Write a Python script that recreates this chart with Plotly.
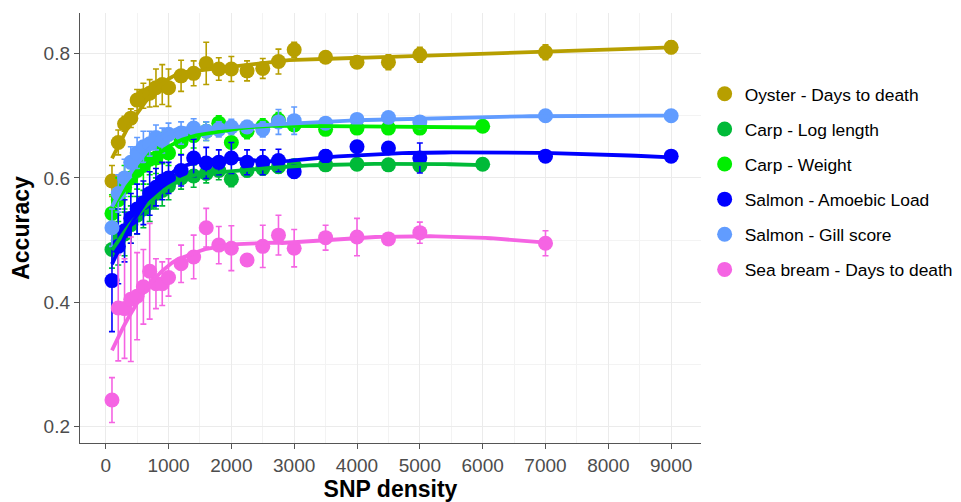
import numpy as np
import plotly.graph_objects as go

# ---------------- data ----------------
X_BASE = [100, 200, 300, 400, 500, 600, 700, 800, 900, 1000, 1200, 1400, 1600, 1800,
          2000, 2250, 2500, 2750, 3000, 3500, 4000, 4500, 5000]

oyster_x = X_BASE + [7000, 9000]
oyster_y = [0.595, 0.657, 0.687, 0.696, 0.725, 0.732, 0.736, 0.745, 0.750, 0.745, 0.764, 0.768,
            0.784, 0.775, 0.775, 0.772, 0.776, 0.787, 0.806, 0.794, 0.786, 0.786, 0.798, 0.802, 0.810]
oyster_e = [0.025, 0.020, 0.012, 0.015, 0.017, 0.020, 0.022, 0.030, 0.032, 0.030, 0.025, 0.020,
            0.034, 0.018, 0.020, 0.016, 0.016, 0.020, 0.012, 0.005, 0.006, 0.012, 0.012, 0.012, 0.010]

carplen_x = X_BASE + [6000]
carplen_y = [0.485, 0.500, 0.510, 0.525, 0.540, 0.550, 0.560, 0.575, 0.580, 0.587, 0.600, 0.603,
             0.607, 0.612, 0.598, 0.612, 0.615, 0.618, 0.620, 0.621, 0.622, 0.621, 0.620, 0.622]
carplen_e = [0.030, 0.040, 0.035, 0.030, 0.030, 0.030, 0.030, 0.025, 0.025, 0.022, 0.018, 0.018,
             0.015, 0.015, 0.012, 0.010, 0.010, 0.010, 0.008, 0.006, 0.006, 0.006, 0.006, 0.005]

carpwt_x = X_BASE + [6000]
carpwt_y = [0.543, 0.565, 0.585, 0.600, 0.612, 0.620, 0.630, 0.632, 0.648, 0.640, 0.658, 0.668,
            0.675, 0.688, 0.657, 0.675, 0.683, 0.693, 0.685, 0.678, 0.680, 0.680, 0.680, 0.683]
carpwt_e = [0.030, 0.035, 0.035, 0.030, 0.030, 0.030, 0.025, 0.025, 0.025, 0.020, 0.020, 0.020,
            0.015, 0.012, 0.015, 0.012, 0.012, 0.012, 0.010, 0.008, 0.008, 0.008, 0.008, 0.005]

amoeb_x = X_BASE + [7000, 9000]
amoeb_y = [0.435, 0.490, 0.515, 0.535, 0.550, 0.560, 0.575, 0.585, 0.595, 0.600, 0.612, 0.632,
           0.624, 0.625, 0.632, 0.625, 0.625, 0.628, 0.610, 0.635, 0.650, 0.648, 0.632, 0.635, 0.635]
amoeb_e = [0.082, 0.060, 0.050, 0.040, 0.040, 0.035, 0.035, 0.030, 0.030, 0.025, 0.025, 0.030,
           0.025, 0.020, 0.025, 0.020, 0.020, 0.018, 0.010, 0.010, 0.008, 0.008, 0.024, 0.005, 0.005]

gill_x = X_BASE + [7000, 9000]
gill_y = [0.520, 0.575, 0.600, 0.625, 0.640, 0.650, 0.655, 0.665, 0.660, 0.670, 0.672, 0.680,
          0.675, 0.678, 0.682, 0.682, 0.678, 0.690, 0.692, 0.688, 0.694, 0.697, 0.690, 0.700, 0.700]
gill_e = [0.030, 0.030, 0.030, 0.025, 0.025, 0.025, 0.020, 0.020, 0.020, 0.018, 0.018, 0.015,
          0.015, 0.012, 0.012, 0.010, 0.012, 0.020, 0.022, 0.005, 0.005, 0.005, 0.005, 0.004, 0.004]

bream_x = X_BASE + [7000]
bream_y = [0.243, 0.391, 0.390, 0.405, 0.410, 0.425, 0.450, 0.430, 0.430, 0.440, 0.462, 0.473,
           0.520, 0.492, 0.487, 0.468, 0.490, 0.508, 0.487, 0.504, 0.505, 0.502, 0.512, 0.495]
bream_e = [0.036, 0.085, 0.080, 0.100, 0.070, 0.060, 0.077, 0.040, 0.035, 0.030, 0.030, 0.035,
           0.031, 0.030, 0.036, 0.010, 0.034, 0.032, 0.030, 0.020, 0.030, 0.006, 0.017, 0.020]

names = ["Oyster - Days to death", "Carp - Log length", "Carp - Weight",
         "Salmon - Amoebic Load", "Salmon - Gill score", "Sea bream - Days to death"]
colors = ["#B79F00", "#00BA38", "#00EE00", "#0000FF", "#619CFF", "#F564E3"]

series = [(oyster_x, oyster_y, oyster_e), (carplen_x, carplen_y, carplen_e),
          (carpwt_x, carpwt_y, carpwt_e), (amoeb_x, amoeb_y, amoeb_e),
          (gill_x, gill_y, gill_e), (bream_x, bream_y, bream_e)]

x_ticks = [0, 1000, 2000, 3000, 4000, 5000, 6000, 7000, 8000, 9000]
y_ticks = [0.2, 0.4, 0.6, 0.8]


def loess(x, y, xout, span=0.75):
    x = np.asarray(x, float)
    y = np.asarray(y, float)
    n = len(x)
    q = int(np.floor(n * span))
    out = []
    for x0 in xout:
        d = np.abs(x - x0)
        h = np.sort(d)[q - 1]
        u = np.clip(d / h, 0, 1)
        w = (1 - u ** 3) ** 3
        X = np.column_stack([np.ones(n), x - x0, (x - x0) ** 2])
        W = np.sqrt(w)
        beta, *_ = np.linalg.lstsq(X * W[:, None], y * W, rcond=None)
        out.append(beta[0])
    return np.array(out)


fig = go.Figure()

for i, ((sx, sy, se), nm, col) in enumerate(zip(series, names, colors)):
    fig.add_trace(go.Scatter(
        x=sx, y=sy, mode="markers", name=nm, legendgroup=nm,
        marker=dict(color=col, size=15),
        error_y=dict(type="data", array=se, visible=True, color=col, thickness=1.6, width=3),
    ))

for (sx, sy, se), nm, col in zip(series, names, colors):
    xs = np.linspace(min(sx), max(sx), 80)
    ys = loess(sx, sy, xs)
    fig.add_trace(go.Scatter(x=xs, y=ys, mode="lines", line=dict(color=col, width=3.8),
                             showlegend=False, legendgroup=nm, hoverinfo="skip"))

axis_common = dict(
    showline=True, linecolor="#555555", linewidth=1.4,
    ticks="outside", ticklen=5, tickwidth=1.2, tickcolor="#555555",
    tickfont=dict(family="Liberation Sans, Arial", size=19, color="#4D4D4D"),
    showgrid=True, gridcolor="#EBEBEB", gridwidth=1.3, zeroline=False,
    automargin=False,
)

W, H = 953, 494

fig.update_layout(
    width=W, height=H,
    margin=dict(l=72, r=260, t=5, b=59),
    paper_bgcolor="white", plot_bgcolor="white",
    font=dict(family="Liberation Sans, Arial", color="black"),
    xaxis=dict(range=[-409, 9475], tickvals=x_ticks, ticktext=[str(v) for v in x_ticks],
               minor=dict(dtick=500, tick0=0, showgrid=True, gridcolor="#F3F3F3", gridwidth=0.8, ticks=""),
               title=dict(text="<b>SNP density</b>", font=dict(size=23, color="black"), standoff=6),
               **axis_common),
    yaxis=dict(range=[0.174, 0.865], tickvals=y_ticks, ticktext=["0.2", "0.4", "0.6", "0.8"],
               minor=dict(dtick=0.1, tick0=0, showgrid=True, gridcolor="#F3F3F3", gridwidth=0.8, ticks=""),
               title=dict(text="<b>Accuracy</b>", font=dict(size=23, color="black"), standoff=9),
               **axis_common),
    legend=dict(xref="container", yref="container", x=0.731, y=1 - 68 / H,
                xanchor="left", yanchor="top", tracegroupgap=9.5,
                font=dict(family="Liberation Sans, Arial", size=17.4, color="black"),
                bgcolor="rgba(0,0,0,0)"),
    showlegend=True,
)

fig.write_html("out.html")
